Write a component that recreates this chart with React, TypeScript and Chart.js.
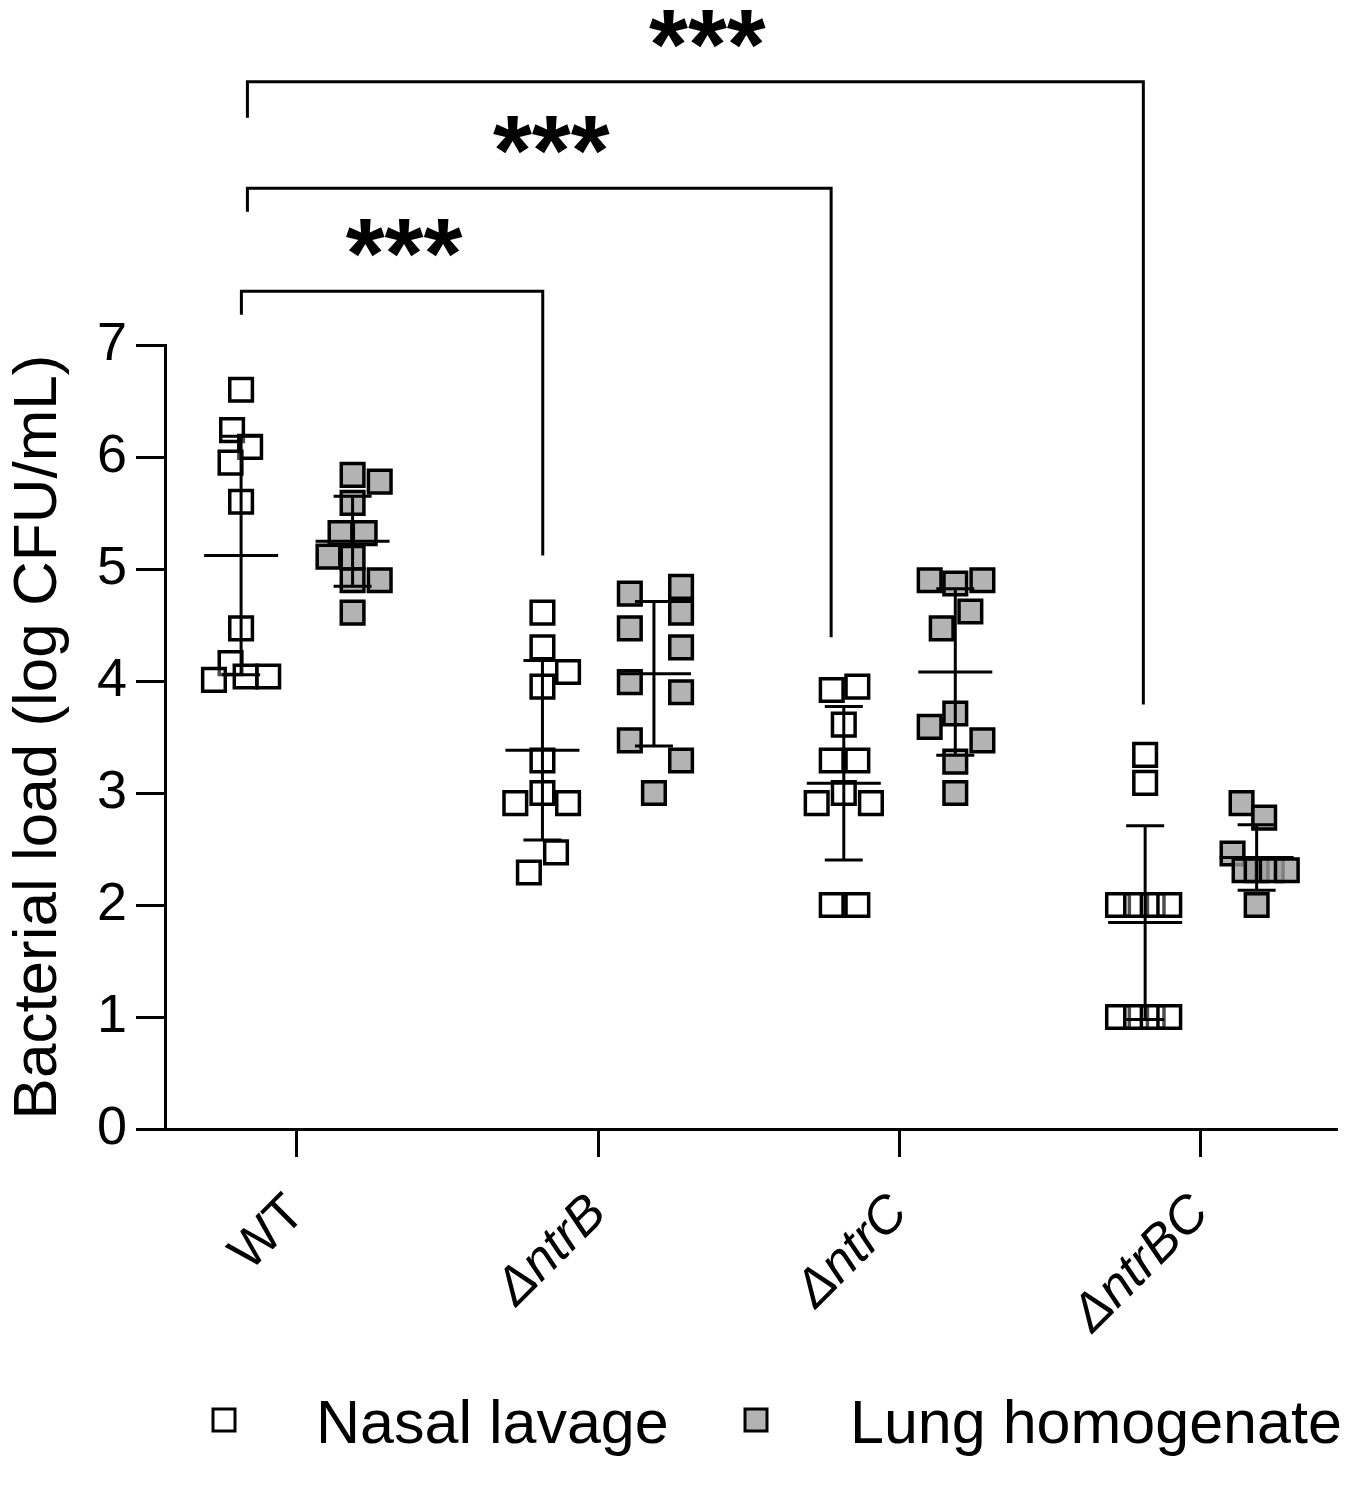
import React, { useEffect, useRef } from "react";
import { Chart, registerables } from "chart.js";

Chart.register(...registerables);

const strains = ["WT", "ΔntrB", "ΔntrC", "ΔntrBC"];
const seriesNames = ["Nasal lavage", "Lung homogenate"];
const yTicks = [0, 1, 2, 3, 4, 5, 6, 7];

// log CFU/mL for each mouse, one row per strain
const nasalValues = [
  [6.6, 6.24, 6.09, 5.95, 5.6, 4.47, 4.16, 4.01, 4.04, 4.04],
  [4.61, 4.3, 4.08, 3.95, 3.29, 3.0, 2.91, 2.91, 2.47, 2.29],
  [3.92, 3.95, 3.61, 3.29, 3.29, 2.91, 3.0, 2.91, 2.0, 2.0],
  [3.34, 3.09, 2.0, 2.0, 2.0, 2.0, 1.0, 1.0, 1.0, 1.0],
];
const lungValues = [
  [5.84, 5.78, 5.59, 5.32, 5.32, 5.11, 5.1, 4.9, 4.9, 4.61],
  [4.84, 4.78, 4.61, 4.47, 4.3, 3.99, 3.9, 3.47, 3.29, 3.0],
  [4.9, 4.87, 4.9, 4.62, 4.47, 3.71, 3.59, 3.47, 3.28, 3.0],
  [2.91, 2.78, 2.46, 2.31, 2.31, 2.31, 2.31, 2.0],
];

// horizontal scatter of the points inside each column (x units)
const nasalJitter = [
  [0, -0.03, 0.03, -0.035, 0, 0, -0.035, -0.09, 0.015, 0.09],
  [0, 0, 0.085, 0, 0, 0, -0.09, 0.085, 0.045, -0.045],
  [-0.04, 0.045, 0, -0.04, 0.045, -0.09, 0, 0.09, -0.04, 0.045],
  [0, 0, -0.09, -0.03, 0.025, 0.08, -0.09, -0.03, 0.025, 0.08],
];
const lungJitter = [
  [0, 0.09, 0, -0.04, 0.04, -0.08, 0, 0.09, 0, 0],
  [0.09, -0.08, 0.09, -0.08, 0.09, -0.08, 0.09, -0.08, 0.09, 0],
  [-0.085, 0, 0.09, 0.05, -0.045, 0, -0.085, 0.09, 0, 0],
  [-0.05, 0.025, -0.08, -0.04, 0, 0.05, 0.1, 0],
];

// comparison brackets: x in strain units, y in log CFU/mL
const brackets = [
  { x1: 0.816, x2: 1.816, level: 7.48, leftEnd: 7.27, rightEnd: 5.12, label: "***" },
  { x1: 0.836, x2: 2.773, level: 8.4, leftEnd: 8.19, rightEnd: 4.39, label: "***" },
  { x1: 0.836, x2: 3.809, level: 9.35, leftEnd: 9.03, rightEnd: 3.79, label: "***" },
];

const seriesOffset = [-0.185, 0.185];
const fillColors = ["rgba(255,255,255,0.3)", "rgba(160,160,160,0.8)"];
const family = "'Liberation Sans', Arial, sans-serif";

const mean = (a: number[]) => a.reduce((s, v) => s + v, 0) / a.length;
const stdev = (a: number[]) => {
  const m = mean(a);
  return Math.sqrt(a.reduce((s, v) => s + (v - m) ** 2, 0) / (a.length - 1));
};

const errorBars = {
  id: "errorBars",
  afterDatasetsDraw(chart: any) {
    const { ctx, scales } = chart;
    const { x, y } = scales;
    ctx.save();
    ctx.strokeStyle = "#000";
    ctx.lineWidth = 3;
    [nasalValues, lungValues].forEach((groups, s) => {
      groups.forEach((vals, g) => {
        const cx = x.getPixelForValue(g + 1 + seriesOffset[s]);
        const m = mean(vals);
        const d = stdev(vals);
        const yt = y.getPixelForValue(m + d);
        const yb = y.getPixelForValue(m - d);
        const ym = y.getPixelForValue(m);
        ctx.beginPath();
        ctx.moveTo(cx, yt);
        ctx.lineTo(cx, yb);
        ctx.moveTo(cx - 37, ym);
        ctx.lineTo(cx + 37, ym);
        ctx.moveTo(cx - 19, yt);
        ctx.lineTo(cx + 19, yt);
        ctx.moveTo(cx - 19, yb);
        ctx.lineTo(cx + 19, yb);
        ctx.stroke();
      });
    });
    ctx.restore();
  },
};

const extras = {
  id: "extras",
  afterDraw(chart: any) {
    const { ctx, scales } = chart;
    const { x, y } = scales;
    ctx.save();
    // significance brackets
    ctx.strokeStyle = "#000";
    ctx.fillStyle = "#000";
    ctx.lineWidth = 3;
    ctx.font = `bold 100px ${family}`;
    ctx.textAlign = "center";
    ctx.textBaseline = "alphabetic";
    brackets.forEach((b) => {
      const px1 = x.getPixelForValue(b.x1);
      const px2 = x.getPixelForValue(b.x2);
      const py = y.getPixelForValue(b.level);
      ctx.beginPath();
      ctx.moveTo(px1, y.getPixelForValue(b.leftEnd));
      ctx.lineTo(px1, py);
      ctx.lineTo(px2, py);
      ctx.lineTo(px2, y.getPixelForValue(b.rightEnd));
      ctx.stroke();
      ctx.fillText(b.label, (px1 + px2) / 2 + 12, py - 3);
    });

    // legend
    const items = [
      { box: 205, text: 308 },
      { box: 737, text: 842 },
    ];
    ctx.font = `61px ${family}`;
    ctx.textAlign = "left";
    items.forEach((it, i) => {
      ctx.fillStyle = fillColors[i];
      ctx.fillRect(it.box, 1401, 22, 22);
      ctx.strokeStyle = "#000";
      ctx.lineWidth = 3;
      ctx.strokeRect(it.box, 1401, 22, 22);
      ctx.fillStyle = "#000";
      ctx.fillText(seriesNames[i], it.text, 1435);
    });
    ctx.restore();
  },
};

const App: React.FC = () => {
  const canvasRef = useRef<HTMLCanvasElement | null>(null);

  useEffect(() => {
    if (!canvasRef.current) return;
    const ctx = canvasRef.current.getContext("2d");
    if (!ctx) return;

    const datasets = [nasalValues, lungValues].map((groups, s) => {
      const jit = s === 0 ? nasalJitter : lungJitter;
      return {
        label: seriesNames[s],
        data: groups.flatMap((vals, g) =>
          vals.map((v, k) => ({ x: g + 1 + seriesOffset[s] + jit[g][k], y: v }))
        ),
        pointStyle: "rect",
        pointRadius: 16,
        pointHoverRadius: 16,
        backgroundColor: fillColors[s],
        borderColor: "#000",
        borderWidth: 3.5,
        showLine: false,
      };
    });

    const chart = new Chart(ctx, {
      type: "scatter",
      data: { datasets } as any,
      plugins: [errorBars, extras],
      options: {
        animation: false,
        responsive: true,
        maintainAspectRatio: false,
        events: [],
        layout: { padding: { top: 337, right: 9, left: 0, bottom: 0 } },
        plugins: {
          legend: { display: false },
          tooltip: { enabled: false },
        },
        scales: {
          x: {
            type: "linear",
            min: 0.5625,
            max: 4.45,
            afterBuildTicks: (scale: any) => {
              scale.ticks = strains.map((_, i) => ({ value: i + 1 }));
            },
            afterFit: (scale: any) => {
              scale.height = 351;
            },
            ticks: {
              autoSkip: false,
              minRotation: 45,
              maxRotation: 45,
              color: "#000",
              padding: 26,
              callback: (v: any) => strains[Math.round(Number(v)) - 1],
              font: (c: any) => ({
                family,
                size: 52,
                style: c.index === 0 ? "normal" : "italic",
              }),
            },
            grid: { drawOnChartArea: false, tickLength: 28, color: "#000", lineWidth: 3 },
            border: { color: "#000", width: 3 },
          },
          y: {
            min: 0,
            max: 7,
            afterBuildTicks: (scale: any) => {
              scale.ticks = yTicks.map((v) => ({ value: v }));
            },
            afterFit: (scale: any) => {
              scale.width = 157;
            },
            ticks: { color: "#000", padding: 9, font: { family, size: 54 } },
            grid: { drawOnChartArea: false, tickLength: 29, color: "#000", lineWidth: 3 },
            border: { color: "#000", width: 3 },
            title: {
              display: true,
              text: "Bacterial load (log CFU/mL)",
              color: "#000",
              padding: 0,
              font: { family, size: 62, lineHeight: 1 },
            },
          },
        },
      } as any,
    });

    return () => {
      chart.destroy();
    };
  }, []);

  return (
    <div style={{ width: 1348, height: 1472, position: "relative" }}>
      <canvas ref={canvasRef}></canvas>
    </div>
  );
};

export default App;
